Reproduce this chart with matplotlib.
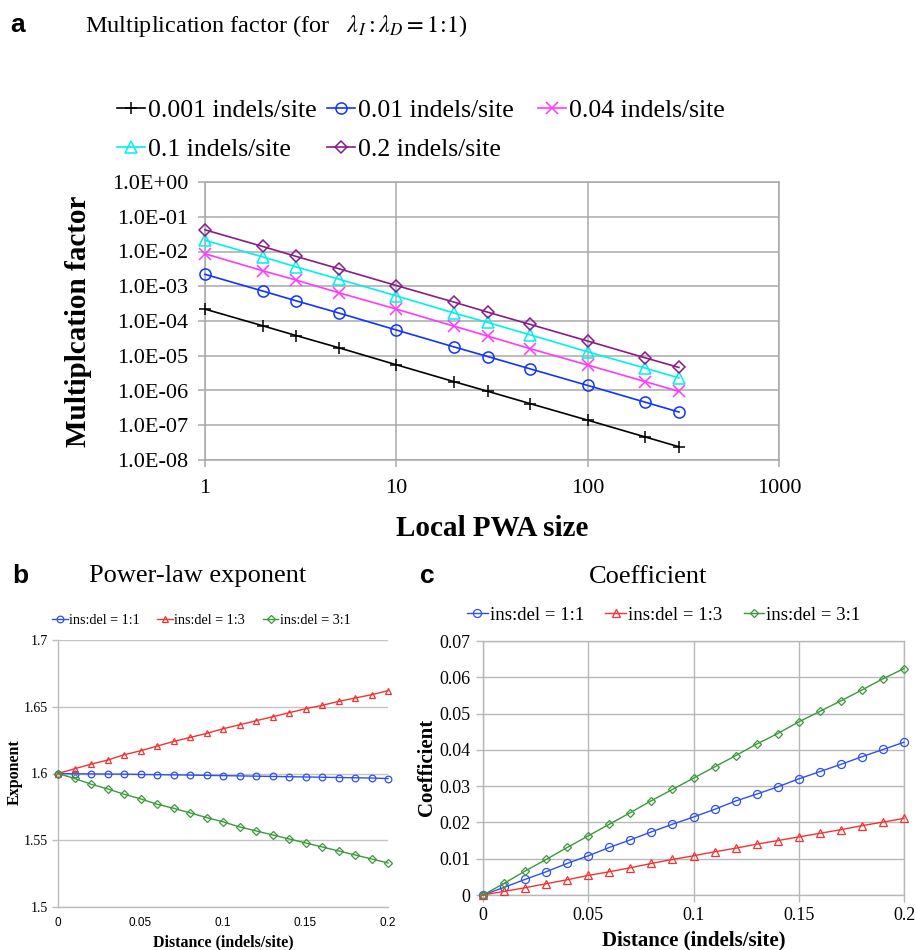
import matplotlib
matplotlib.use("Agg")
import matplotlib.pyplot as plt
from matplotlib.ticker import FixedLocator, FuncFormatter, NullLocator

SERIF = "Liberation Serif"
SANS = "Liberation Sans"
plt.rcParams["font.family"] = [SERIF, "DejaVu Serif"]
plt.rcParams["mathtext.fontset"] = "stix"

# ---------------- data ----------------
# Panel a: multiplication factor vs local PWA size (log-log)
pwa_size = [1, 2, 3, 5, 10, 20, 30, 50, 100, 200, 300]
mf_0001 = [2.2e-4, 7.3e-5, 3.8e-5, 1.7e-5, 5.5e-6, 1.8e-6, 9.5e-7, 4.2e-7, 1.4e-7, 4.6e-8, 2.4e-8]
mf_001 = [2.2e-3, 7.3e-4, 3.8e-4, 1.7e-4, 5.5e-5, 1.8e-5, 9.5e-6, 4.2e-6, 1.4e-6, 4.6e-7, 2.4e-7]
mf_004 = [8.6e-3, 2.8e-3, 1.5e-3, 6.5e-4, 2.2e-4, 7.1e-5, 3.7e-5, 1.6e-5, 5.4e-6, 1.8e-6, 9.4e-7]
mf_01 = [2.1e-2, 7.0e-3, 3.6e-3, 1.6e-3, 5.3e-4, 1.7e-4, 9.1e-5, 4.0e-5, 1.3e-5, 4.4e-6, 2.3e-6]
mf_02 = [4.2e-2, 1.4e-2, 7.2e-3, 3.2e-3, 1.05e-3, 3.5e-4, 1.8e-4, 8.0e-5, 2.65e-5, 8.7e-6, 4.6e-6]
mf_labels = ["0.001 indels/site", "0.01 indels/site", "0.04 indels/site",
             "0.1 indels/site", "0.2 indels/site"]
a_yticks = [1e-8, 1e-7, 1e-6, 1e-5, 1e-4, 1e-3, 1e-2, 1e-1, 1e0]
a_xticks = [1, 10, 100, 1000]

# Panels b, c: vs distance
distance = [0.00, 0.01, 0.02, 0.03, 0.04, 0.05, 0.06, 0.07, 0.08, 0.09, 0.10,
            0.11, 0.12, 0.13, 0.14, 0.15, 0.16, 0.17, 0.18, 0.19, 0.20]
ratio_labels = ["ins:del = 1:1", "ins:del = 1:3", "ins:del = 3:1"]

exp_11 = [1.6000, 1.5998, 1.5997, 1.5996, 1.5995, 1.5993, 1.5991, 1.5990, 1.5988, 1.5986, 1.5984,
          1.5982, 1.5980, 1.5978, 1.5976, 1.5974, 1.5972, 1.5970, 1.5968, 1.5966, 1.5962]
exp_13 = [1.6000, 1.6035, 1.6070, 1.6100, 1.6140, 1.6170, 1.6205, 1.6240, 1.6270, 1.6300, 1.6335,
          1.6365, 1.6395, 1.6425, 1.6455, 1.6485, 1.6510, 1.6540, 1.6565, 1.6590, 1.6620]
exp_31 = [1.6000, 1.5963, 1.5920, 1.5885, 1.5845, 1.5810, 1.5770, 1.5740, 1.5705, 1.5670, 1.5638,
          1.5600, 1.5570, 1.5540, 1.5510, 1.5480, 1.5450, 1.5420, 1.5390, 1.5360, 1.5330]

coef_11 = [0.0, 0.0021, 0.0043, 0.0064, 0.0087, 0.0108, 0.0131, 0.0152, 0.0174, 0.0195, 0.0215,
           0.0236, 0.0259, 0.0278, 0.0298, 0.0320, 0.0340, 0.0360, 0.0381, 0.0401, 0.0421]
coef_13 = [0.0, 0.0010, 0.0020, 0.0031, 0.0042, 0.0054, 0.0064, 0.0075, 0.0087, 0.0098, 0.0108,
           0.0119, 0.0129, 0.0140, 0.0150, 0.0160, 0.0170, 0.0180, 0.0191, 0.0201, 0.0211]
coef_31 = [0.0, 0.0032, 0.0066, 0.0098, 0.0131, 0.0163, 0.0195, 0.0227, 0.0260, 0.0291, 0.0322,
           0.0353, 0.0384, 0.0416, 0.0445, 0.0477, 0.0506, 0.0535, 0.0565, 0.0596, 0.0624]

b_yticks = [1.5, 1.55, 1.6, 1.65, 1.7]
c_yticks = [0, 0.01, 0.02, 0.03, 0.04, 0.05, 0.06, 0.07]
bc_xticks = [0, 0.05, 0.1, 0.15, 0.2]

# ---------------- figure ----------------
W, H = 917, 950
fig = plt.figure(figsize=(W / 100, H / 100), dpi=100)


def fx(x):
    return x / W


def fy(y):
    return 1 - y / H


def ax_px(l, t, r, b):
    return fig.add_axes([l / W, 1 - b / H, (r - l) / W, (b - t) / H])


GRID_A = "#a9a9a9"
gfmt = FuncFormatter(lambda v, p: "%g" % v)

# ---------- panel a ----------
axa = ax_px(205, 182, 779, 460)
axa.set_xscale("log")
axa.set_yscale("log")
axa.set_xlim(1, 1000)
axa.set_ylim(1e-8, 1)
a_series = [mf_0001, mf_001, mf_004, mf_01, mf_02]
a_colors = ["#000000", "#1034ff", "#ff38ff", "#00f0f0", "#8b1a8b"]
a_markers = ["+", "o", "x", "^", "D"]
a_ms = [9, 8, 8.5, 8, 6.5]
a_handles = []
for vals, col, mk, ms, lab in zip(a_series, a_colors, a_markers, a_ms, mf_labels):
    (h,) = axa.plot(pwa_size, vals, color=col, marker=mk, ms=ms, mfc="none",
                    mew=1.1, lw=1.2, label=lab, clip_on=False, zorder=3)
    a_handles.append(h)
axa.xaxis.set_major_locator(FixedLocator(a_xticks))
axa.yaxis.set_major_locator(FixedLocator(a_yticks))
axa.xaxis.set_minor_locator(NullLocator())
axa.yaxis.set_minor_locator(NullLocator())
axa.xaxis.set_major_formatter(FuncFormatter(lambda v, p: "%d" % round(v)))


def efmt(v, p):
    import math
    e = int(round(math.log10(v)))
    return "1.0E%s%02d" % ("+" if e >= 0 else "-", abs(e))


axa.yaxis.set_major_formatter(FuncFormatter(efmt))
axa.grid(True, which="major", color=GRID_A, lw=1.1)
axa.set_axisbelow(True)
for s in axa.spines.values():
    s.set_color(GRID_A)
    s.set_linewidth(1.1)
axa.tick_params(axis="both", which="major", direction="out", length=5, width=1.1,
                color=GRID_A, labelsize=16)
axa.tick_params(axis="x", pad=9)
axa.tick_params(axis="y", pad=7)

fig.text(fx(10), fy(32), "a", fontfamily=SANS, fontweight="bold", fontsize=19,
         ha="left", va="baseline")
fig.text(fx(85), fy(32),
         r"Multiplication factor (for   $\lambda_I : \lambda_D = 1\!:\!1$)",
         fontsize=17.5, ha="left", va="baseline")
fig.text(fx(78), fy(321), "Multiplcation factor", rotation=90, fontsize=21,
         fontweight="bold", ha="center", va="center")
fig.text(fx(492), fy(528), "Local PWA size", fontsize=21, fontweight="bold",
         ha="center", va="center")

leg_kw = dict(loc="center left", frameon=False, fontsize=18.5, handlelength=1.1,
              handletextpad=0.12, borderpad=0, borderaxespad=0, labelspacing=0.62,
              numpoints=1)
fig.legend([a_handles[0], a_handles[3]], [mf_labels[0], mf_labels[3]],
           bbox_to_anchor=(fx(117), fy(130)), **leg_kw)
fig.legend([a_handles[1], a_handles[4]], [mf_labels[1], mf_labels[4]],
           bbox_to_anchor=(fx(327), fy(130)), **leg_kw)
fig.legend([a_handles[2]], [mf_labels[2]],
           bbox_to_anchor=(fx(538), fy(111)), **leg_kw)

# ---------- shared style b/c ----------
bc_colors = ["#2f4ff5", "#f53232", "#3a9a3a"]
bc_markers = ["o", "^", "D"]

# ---------- panel b ----------
axb = ax_px(58, 640, 388, 907)
axb.set_xlim(0, 0.2)
axb.set_ylim(1.5, 1.7)
b_handles = []
for vals, col, mk, ms, lab in zip([exp_11, exp_13, exp_31], bc_colors, bc_markers,
                                  [4.8, 4.8, 3.8], ratio_labels):
    (h,) = axb.plot(distance, vals, color=col, marker=mk, ms=ms, mfc="none",
                    mew=0.9, lw=1.0, label=lab, clip_on=False, zorder=3)
    b_handles.append(h)
axb.xaxis.set_major_locator(FixedLocator(bc_xticks))
axb.yaxis.set_major_locator(FixedLocator(b_yticks))
axb.xaxis.set_major_formatter(gfmt)
axb.yaxis.set_major_formatter(gfmt)
axb.yaxis.grid(True, color="#c4c4c4", lw=1.0)
axb.set_axisbelow(True)
axb.spines["top"].set_visible(False)
axb.spines["right"].set_visible(False)
for s in ("left", "bottom"):
    axb.spines[s].set_color("#bcbcbc")
    axb.spines[s].set_linewidth(1.0)
axb.tick_params(axis="y", direction="out", length=4, width=1.0, color="#bcbcbc",
                labelsize=10, pad=3)
axb.tick_params(axis="x", direction="out", length=0, labelsize=8.5, pad=7)
for lbl in axb.get_xticklabels():
    lbl.set_fontfamily(SANS)

fig.text(fx(12), fy(583), "b", fontfamily=SANS, fontweight="bold", fontsize=19,
         ha="left", va="baseline")
fig.text(fx(198), fy(582), "Power-law exponent", fontsize=19, ha="center",
         va="baseline")
fig.text(fx(15), fy(772), "Exponent", rotation=90, fontsize=11.5, fontweight="bold",
         ha="center", va="center")
fig.text(fx(223), fy(942), "Distance (indels/site)", fontsize=11.5, fontweight="bold",
         ha="center", va="center")
fig.legend(b_handles, ratio_labels, loc="center left", ncol=3, frameon=False,
           fontsize=10.2, handlelength=1.1, handletextpad=0.1, columnspacing=1.25,
           borderpad=0, borderaxespad=0, bbox_to_anchor=(fx(52), fy(620)))

# ---------- panel c ----------
axc = ax_px(483, 641, 904, 895)
axc.set_xlim(0, 0.2)
axc.set_ylim(0, 0.07)
c_handles = []
for vals, col, mk, ms, lab in zip([coef_11, coef_13, coef_31], bc_colors, bc_markers,
                                  [5.8, 5.5, 4.3], ratio_labels):
    (h,) = axc.plot(distance, vals, color=col, marker=mk, ms=ms, mfc="none",
                    mew=0.9, lw=1.0, label=lab, clip_on=False, zorder=3)
    c_handles.append(h)
axc.xaxis.set_major_locator(FixedLocator(bc_xticks))
axc.yaxis.set_major_locator(FixedLocator(c_yticks))
axc.xaxis.set_major_formatter(gfmt)
axc.yaxis.set_major_formatter(gfmt)
axc.grid(True, color="#b8b8b8", lw=1.0)
axc.set_axisbelow(True)
for s in axc.spines.values():
    s.set_color("#b8b8b8")
    s.set_linewidth(1.0)
axc.tick_params(axis="both", direction="out", length=5, width=1.0, color="#b8b8b8",
                labelsize=13)
axc.tick_params(axis="x", pad=4)
axc.tick_params(axis="y", pad=4)

fig.text(fx(420), fy(583), "c", fontfamily=SANS, fontweight="bold", fontsize=19,
         ha="left", va="baseline")
fig.text(fx(648), fy(583), "Coefficient", fontsize=19, ha="center", va="baseline")
fig.text(fx(427), fy(767), "Coefficient", rotation=90, fontsize=15, fontweight="bold",
         ha="center", va="center")
fig.text(fx(694), fy(940), "Distance (indels/site)", fontsize=15, fontweight="bold",
         ha="center", va="center")
fig.legend(c_handles, ratio_labels, loc="center left", ncol=3, frameon=False,
           fontsize=13.5, handlelength=1.1, handletextpad=0.1, columnspacing=1.15,
           borderpad=0, borderaxespad=0, bbox_to_anchor=(fx(467), fy(615)))

fig.savefig("out.png", dpi=100)
